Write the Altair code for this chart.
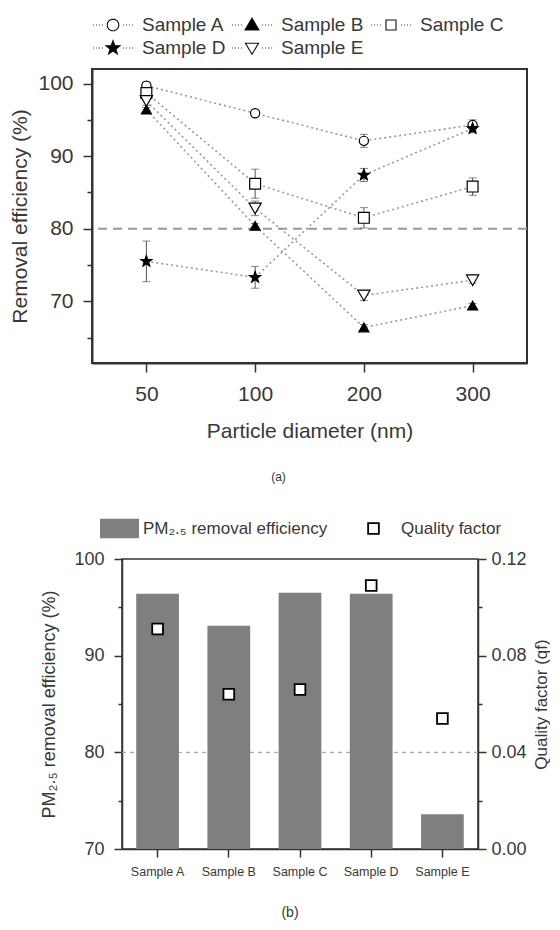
import math
import altair as alt
import pandas as pd

# ---------------- data: panel (a) ----------------
diameters = ["50", "100", "200", "300"]
samples = ["Sample A", "Sample B", "Sample C", "Sample D", "Sample E"]

eff_A = [99.7, 95.9, 92.1, 94.3]
eff_B = [96.4, 80.4, 66.4, 69.4]
eff_C = [98.7, 86.2, 81.5, 85.8]
eff_D = [75.5, 73.3, 87.4, 93.8]
eff_E = [97.6, 82.8, 70.8, 72.9]

err_A = [0.5, 0.4, 0.9, 0.7]
err_B = [0.3, 0.3, 0.4, 0.3]
err_C = [0.9, 2.0, 1.4, 1.2]
err_D = [2.8, 1.5, 0.9, 0.6]
err_E = [0.6, 1.0, 0.7, 0.4]

threshold = [80]
y_ticks_a = [65, 70, 75, 80, 85, 90, 95, 100]

# ---------------- data: panel (b) ----------------
pm25_eff = [96.4, 93.1, 96.5, 96.4, 73.6]
quality = [0.091, 0.064, 0.066, 0.109, 0.054]
y_ticks_b = [70, 75, 80, 85, 90, 95, 100]
qf_ticks = [0.0, 0.02, 0.04, 0.06, 0.08, 0.10, 0.12]

FONT = "Liberation Sans"
TXT = "#383838"
AX = "#333333"
BAR = "#7f7f7f"
DOT = "#9a9a9a"
ERR = "#555555"

effs = [eff_A, eff_B, eff_C, eff_D, eff_E]
errs = [err_A, err_B, err_C, err_D, err_E]
rows = []
for s, e, r in zip(samples, effs, errs):
    for d, v, er in zip(diameters, e, r):
        rows.append({"series": s, "d": d, "eff": v, "lo": v - er, "hi": v + er})
dfa = pd.DataFrame(rows)


# ---------- symbol paths ----------
def star_path(r_out, r_in):
    pts = []
    for k in range(10):
        ang = math.radians(-90 + 36 * k)
        r = r_out if k % 2 == 0 else r_in
        pts.append((r * math.cos(ang), r * math.sin(ang)))
    return "M" + "L".join(f"{x:.3f},{y:.3f}" for x, y in pts) + "Z"


def circle_path(r, n=24):
    pts = []
    for k in range(n):
        ang = 2 * math.pi * k / n
        pts.append((r * math.cos(ang), r * math.sin(ang)))
    return "M" + "L".join(f"{x:.3f},{y:.3f}" for x, y in pts) + "Z"


# legend symbol units: 1 unit = 10 px (symbolSize 400)
dot_x = [-2.0, -1.7, -1.4, -1.1, 1.0, 1.3, 1.6, 1.9]
dots = "".join(f"M{x:.2f},0h0.08" for x in dot_x)

leg_shapes = [
    circle_path(0.58) + dots,
    "M0,-0.68L0.7,0.5L-0.7,0.5Z" + dots,
    "M-0.5,-0.5H0.5V0.5H-0.5Z" + dots,
    star_path(0.74, 0.31) + dots,
    "M0,0.62L0.66,-0.48L-0.66,-0.48Z" + dots,
]
plot_shapes = ["circle", "triangle-up", "square", star_path(1.0, 0.42), "triangle-down"]
fills = ["white", "black", "white", "black", "white"]
sizes = [85, 150, 80, 170, 140]

# ---------------- panel (a) ----------------
xs = alt.Scale(type="point", padding=0.5)
ys = alt.Scale(domain=[61.5, 102], nice=False, zero=False)

x_a = alt.X(
    "d:O", sort=diameters, scale=xs,
    axis=alt.Axis(title="Particle diameter (nm)", labelAngle=0, tickSize=9,
                  labelPadding=11, titlePadding=16, labelFontSize=21,
                  titleFontSize=21, domainWidth=2, tickWidth=1.5),
)
y_a = alt.Y(
    "eff:Q", scale=ys,
    axis=alt.Axis(title="Removal efficiency (%)", values=y_ticks_a,
                  labelExpr="datum.value % 10 == 0 ? datum.label : ''",
                  tickSize={"condition": {"test": "datum.value % 10 != 0", "value": 5}, "value": 9},
                  labelPadding=10, titlePadding=7, labelFontSize=21, titleFontSize=21,
                  domainWidth=2, tickWidth=1.5),
)

rule_a = alt.Chart(pd.DataFrame({"y": threshold})).mark_rule(
    color="#9a9a9a", strokeDash=[9, 6], strokeWidth=2
).encode(y=alt.Y("y:Q", scale=ys))

lines_a = alt.Chart(dfa).mark_line(color=DOT, strokeDash=[2, 3], strokeWidth=1.6).encode(
    x=x_a, y=y_a, detail="series:N"
)
err_a = alt.Chart(dfa).mark_rule(color=ERR, strokeWidth=1).encode(
    x=alt.X("d:O", sort=diameters, scale=xs), y=alt.Y("lo:Q", scale=ys), y2="hi:Q"
)
cap_lo = alt.Chart(dfa).mark_tick(color=ERR, thickness=1, size=8).encode(
    x=alt.X("d:O", sort=diameters, scale=xs), y=alt.Y("lo:Q", scale=ys)
)
cap_hi = alt.Chart(dfa).mark_tick(color=ERR, thickness=1, size=8).encode(
    x=alt.X("d:O", sort=diameters, scale=xs), y=alt.Y("hi:Q", scale=ys)
)
points_a = alt.Chart(dfa).mark_point(stroke="black", strokeWidth=1.2, opacity=1).encode(
    x=alt.X("d:O", sort=diameters, scale=xs),
    y=alt.Y("eff:Q", scale=ys),
    shape=alt.Shape("series:N", scale=alt.Scale(domain=samples, range=plot_shapes), legend=None),
    fill=alt.Fill("series:N", scale=alt.Scale(domain=samples, range=fills), legend=None),
    size=alt.Size("series:N", scale=alt.Scale(domain=samples, range=sizes), legend=None),
)

top_legend = alt.Legend(
    title=None, orient="none", legendX=0, legendY=-55, columns=3, direction="horizontal",
    padding=0, symbolSize=400, symbolStrokeWidth=1.1, symbolOffset=10, gridAlign="all",
    labelFontSize=19, labelOffset=18, columnPadding=3, rowPadding=2, labelLimit=300,
    labelColor=TXT, labelFont=FONT,
)
legend_layer = alt.Chart(dfa).transform_filter("false").mark_point(
    strokeWidth=1.1, opacity=1
).encode(
    x=alt.X("d:O", sort=diameters, scale=xs),
    y=alt.Y("eff:Q", scale=ys),
    shape=alt.Shape("series:N", scale=alt.Scale(domain=samples, range=leg_shapes), legend=top_legend),
    fill=alt.Fill("series:N", scale=alt.Scale(domain=samples, range=fills), legend=top_legend),
    stroke=alt.Stroke("series:N", scale=alt.Scale(domain=samples, range=["#111111"] * 5), legend=top_legend),
)

top = alt.layer(rule_a, lines_a, err_a, cap_lo, cap_hi, points_a, legend_layer).resolve_scale(
    shape="independent", fill="independent", size="independent", stroke="independent"
).properties(
    width=435, height=294,
    view=alt.ViewBackground(stroke=AX, strokeWidth=2),
    title=alt.TitleParams("(a)", orient="bottom", fontSize=12, font=FONT, color=TXT,
                          fontWeight="normal", offset=31, anchor="middle", frame="group", dx=-31),
)

# ---------------- panel (b) ----------------
dfb = pd.DataFrame({
    "sample": samples, "pm": pm25_eff, "qf": quality,
    "lbl1": ["PM₂.₅ removal efficiency"] * len(samples),
    "lbl2": ["Quality factor"] * len(samples),
})
yb_scale = alt.Scale(domain=[70, 100], nice=False, zero=False)
x_b = alt.X(
    "sample:N", sort=samples, scale=alt.Scale(paddingInner=0.4, paddingOuter=0.2),
    axis=alt.Axis(title=None, labelAngle=0, labelFontSize=12.5, tickSize=8, labelPadding=8,
                  domainWidth=1.5, tickWidth=1.5),
)
rule_b = alt.Chart(pd.DataFrame({"y": threshold})).mark_rule(
    color="#9a9a9a", strokeDash=[4, 4], strokeWidth=1
).encode(y=alt.Y("y:Q", scale=yb_scale, axis=None))

bar_legend = alt.Legend(
    title=None, orient="none", legendX=-22, legendY=-50, padding=0,
    symbolType="M-1,-0.5H1V0.5H-1Z", symbolSize=1521, symbolStrokeWidth=0,
    labelFontSize=17, labelOffset=4, labelColor=TXT, labelFont=FONT, labelLimit=300,
)
bars = alt.Chart(dfb).mark_bar(color=BAR).encode(
    x=x_b,
    y=alt.Y("pm:Q", scale=yb_scale,
            axis=alt.Axis(title="PM₂.₅ removal efficiency (%)", values=y_ticks_b,
                          labelExpr="datum.value % 10 == 0 ? datum.label : ''",
                          tickSize={"condition": {"test": "datum.value % 10 != 0", "value": 4}, "value": 8},
                          labelPadding=10, titlePadding=15, labelFontSize=18, titleFontSize=18,
                          domainWidth=1.5, tickWidth=1.5)),
    y2=alt.datum(70),
    fill=alt.Fill("lbl1:N", scale=alt.Scale(range=[BAR]), legend=bar_legend),
)
qf_legend = alt.Legend(
    title=None, orient="none", legendX=243, legendY=-39, padding=0,
    symbolSize=115, symbolFillColor="white", symbolStrokeWidth=1.8,
    labelFontSize=17, labelOffset=19, labelColor=TXT, labelFont=FONT, labelLimit=300,
)
squares = alt.Chart(dfb).mark_point(fill="white", strokeWidth=1.8, size=115, opacity=1).encode(
    x=x_b,
    y=alt.Y("qf:Q", scale=alt.Scale(domain=[0, 0.12], nice=False, zero=False),
            axis=alt.Axis(orient="right", title="Quality factor (qf)", values=qf_ticks, format=".2f",
                          labelExpr="round(datum.value*100) % 4 == 0 ? datum.label : ''",
                          tickSize={"condition": {"test": "round(datum.value*100) % 4 != 0", "value": 4}, "value": 8},
                          labelPadding=5, titlePadding=7, titleAngle=270, titleBaseline="top",
                          labelFontSize=18, titleFontSize=17, domainWidth=1.5, tickWidth=1.5)),
    shape=alt.Shape("lbl2:N", scale=alt.Scale(range=["square"]), legend=qf_legend),
    stroke=alt.Stroke("lbl2:N", scale=alt.Scale(range=["black"]), legend=qf_legend),
)

bottom = alt.layer(rule_b, bars, squares).resolve_scale(y="independent").properties(
    width=356, height=290,
    view=alt.ViewBackground(stroke=AX, strokeWidth=1.5),
    title=alt.TitleParams("(b)", orient="bottom", fontSize=14, font=FONT, color=TXT,
                          fontWeight="normal", offset=28, anchor="middle", frame="group", dx=-10),
)

spacer = alt.Chart(pd.DataFrame({"a": [0]})).mark_point(opacity=0).encode(
    x=alt.X("a:Q", axis=None), y=alt.Y("a:Q", axis=None)
).properties(width=30, height=10, view=alt.ViewBackground(stroke="transparent"))

row_b = alt.hconcat(spacer, bottom, spacing=0, bounds="flush").resolve_scale(
    fill="independent", shape="independent", size="independent", stroke="independent"
)

chart = alt.vconcat(top, row_b, spacing=196, bounds="flush").resolve_scale(
    fill="independent", shape="independent", size="independent", stroke="independent"
).properties(
    padding={"left": 0, "top": 5, "right": 0, "bottom": 5}
).configure(
    font=FONT,
).configure_axis(
    labelFont=FONT, titleFont=FONT, labelColor=TXT, titleColor=TXT,
    domainColor=AX, tickColor=AX, grid=False, titleFontWeight="normal",
).configure_view(
    stroke="transparent"
)

chart.save("out.html", embed_options={"renderer": "svg", "actions": False})
